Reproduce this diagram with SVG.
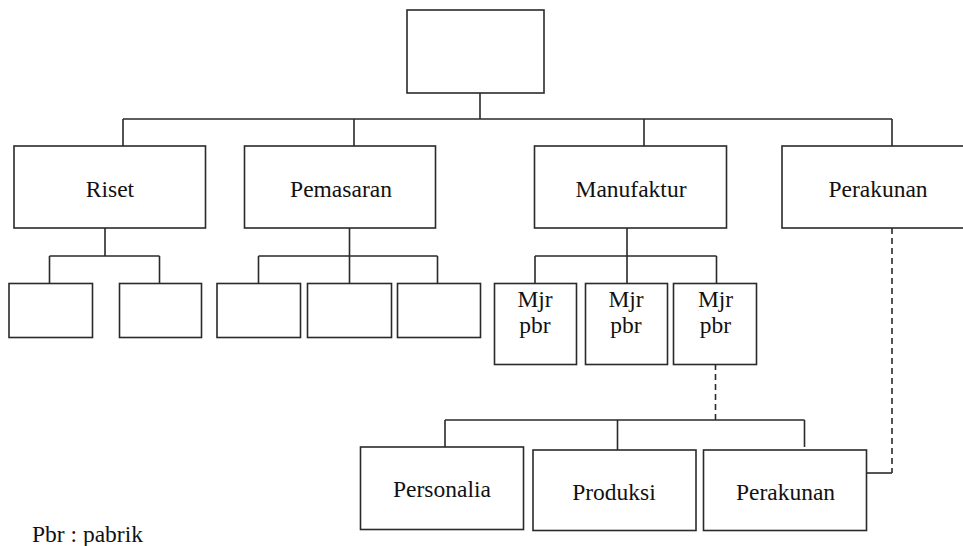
<svg xmlns="http://www.w3.org/2000/svg" width="963" height="546" viewBox="0 0 963 546">
<style>
.box{fill:#fff;stroke:#2a2a2a;stroke-width:1.6}
.ln{fill:none;stroke:#2a2a2a;stroke-width:1.6}
.dash{fill:none;stroke:#2a2a2a;stroke-width:1.6;stroke-dasharray:6 4}
.t{font-size:23.5px;fill:#111;text-anchor:middle}
</style>
<rect width="963" height="546" fill="#fff"/>
<g id="connectors">
<path class="ln" d="M480,93 V119 M123,119 H892 M123,119 V146 M354,119 V146 M644,119 V146 M892,119 V146"/>
<path class="ln" d="M105,228 V256 M49.5,256 H159.5 M49.5,256 V283 M159.5,256 V283"/>
<path class="ln" d="M349.5,228 V256 M258.5,256 H437.5 M258.5,256 V283 M349.5,256 V283 M437.5,256 V283"/>
<path class="ln" d="M627,228 V256 M535,256 H716.5 M535,256 V283 M627,256 V283 M716.5,256 V283"/>
<path class="dash" d="M715.5,364 V420"/>
<path class="ln" d="M445,420 H804.5 M445,420 V447 M617.5,420 V450 M804.5,420 V447"/>
<path class="dash" d="M892,228 V473"/>
<path class="ln" d="M892,473 H866"/>
</g>
<g font-family="Liberation Serif, Times New Roman, DejaVu Serif, serif">
<g id="top"><rect class="box" x="407" y="10" width="137" height="83"/></g>
<g id="riset"><rect class="box" x="14" y="146" width="191.5" height="82"/><text class="t" x="110" y="197">Riset</text></g>
<g id="pemasaran"><rect class="box" x="244.5" y="146" width="191" height="82"/><text class="t" x="341" y="197">Pemasaran</text></g>
<g id="manufaktur"><rect class="box" x="534.5" y="146" width="192" height="82"/><text class="t" x="631" y="197">Manufaktur</text></g>
<g id="perakunan"><rect class="box" x="782" y="146" width="195" height="82"/><text class="t" x="878" y="197">Perakunan</text></g>
<g id="riset1"><rect class="box" x="9" y="283.5" width="83.5" height="54"/></g>
<g id="riset2"><rect class="box" x="119.5" y="283.5" width="82" height="54"/></g>
<g id="pem1"><rect class="box" x="217" y="283.5" width="83.5" height="54"/></g>
<g id="pem2"><rect class="box" x="307.5" y="283.5" width="84" height="54"/></g>
<g id="pem3"><rect class="box" x="397.5" y="283.5" width="83" height="54"/></g>
<g id="mjr1"><rect class="box" x="494.5" y="283.5" width="82" height="81"/><text class="t" x="535" y="307">Mjr</text><text class="t" x="535" y="333">pbr</text></g>
<g id="mjr2"><rect class="box" x="585.5" y="283.5" width="82" height="81"/><text class="t" x="626" y="307">Mjr</text><text class="t" x="626" y="333">pbr</text></g>
<g id="mjr3"><rect class="box" x="673.5" y="283.5" width="83" height="81"/><text class="t" x="715.5" y="307">Mjr</text><text class="t" x="715.5" y="333">pbr</text></g>
<g id="personalia"><rect class="box" x="360.5" y="447" width="163" height="82.5"/><text class="t" x="442" y="497">Personalia</text></g>
<g id="produksi"><rect class="box" x="533" y="450" width="163" height="80.5"/><text class="t" x="614" y="500">Produksi</text></g>
<g id="perakunan2"><rect class="box" x="703.5" y="450" width="163" height="80.5"/><text class="t" x="785.5" y="500">Perakunan</text></g>
<g id="legend"><text class="t" x="32" y="541.5" text-anchor="start" style="text-anchor:start">Pbr : pabrik</text></g>
</g>
</svg>
